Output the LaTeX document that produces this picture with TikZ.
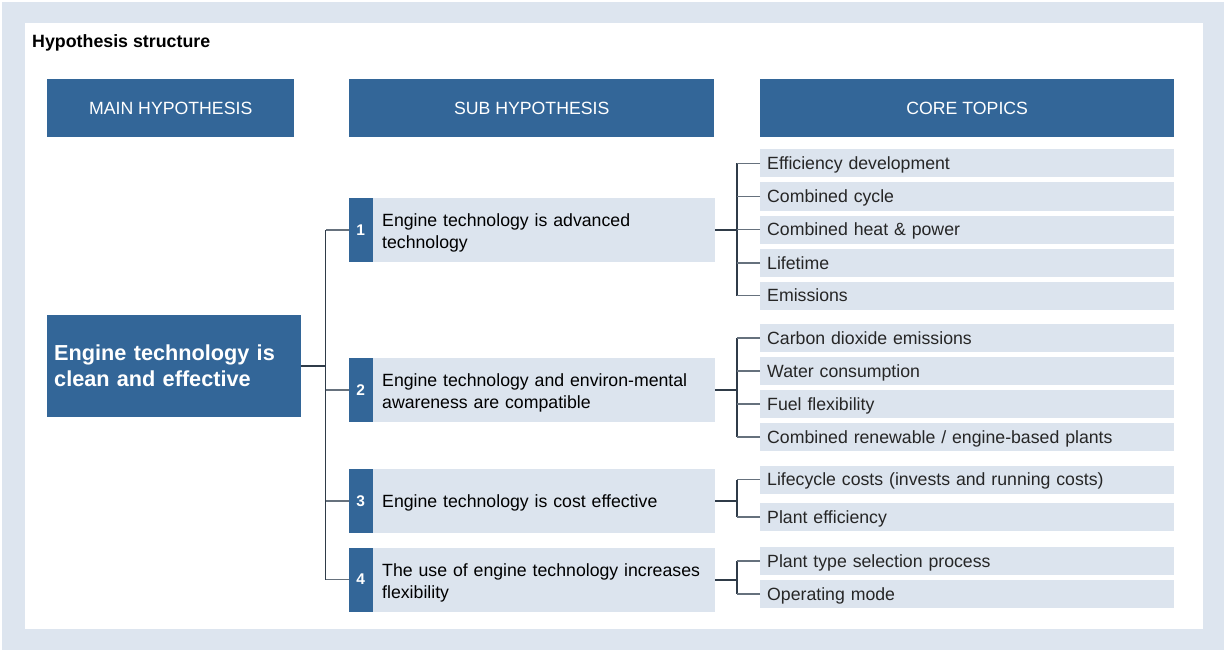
\documentclass[tikz,border=0pt]{standalone}
\usepackage{fontspec}
\setmainfont{Liberation Sans}
\definecolor{dblue}{HTML}{336698}
\definecolor{lblue}{HTML}{DCE4EE}
\definecolor{bgblue}{HTML}{DDE5EF}
\definecolor{lineD}{HTML}{2F3B48}
\definecolor{lineG}{HTML}{66717D}
\begin{document}
\begin{tikzpicture}[x=1pt,y=-1pt,
  txt/.style={font=\fontsize{17.7}{22}\selectfont},
  hdr/.style={txt, fill=dblue, text=white, minimum height=58pt, inner sep=0pt, anchor=north west},
  mainbox/.style={fill=dblue, text=white, minimum width=254pt, minimum height=102pt, inner xsep=7pt, inner ysep=0pt,
     text width=240pt, align=left, anchor=west, text depth=27.5pt, font=\fontsize{21.7}{26}\selectfont\bfseries},
  subbox/.style={txt, fill=lblue, text=black, minimum width=342pt, minimum height=64pt, inner xsep=9pt, inner ysep=0pt,
     text width=324pt, align=left, anchor=west, text depth=19.7pt},
  subone/.style={subbox, text depth=0pt},
  numbox/.style={fill=dblue, text=white, minimum width=24pt, minimum height=64pt, inner sep=0pt, anchor=east,
     font=\fontsize{15.5}{18}\selectfont\bfseries},
  topic/.style={txt, fill=lblue, text=black!85, minimum width=414pt, minimum height=28pt, inner xsep=7pt, inner ysep=0pt,
     text width=400pt, align=left, anchor=west, text depth=0pt},
  vline/.style={draw=lineD, line width=1.3pt},
  stubline/.style={draw=lineG, line width=1.2pt},
  thickstub/.style={draw=lineD, line width=2pt},
]
% background
\fill[white] (0,0) rectangle (1224,650);
\fill[bgblue] (2,2) rectangle (1224,650);
\fill[white] (25,23) rectangle (1203,629);
\useasboundingbox (0,0) rectangle (1224,650);

\node[anchor=base west, inner sep=0pt, font=\fontsize{17.8}{22}\selectfont\bfseries] (title) at (32,47.5) {Hypothesis structure};

% headers
\node[hdr, minimum width=247pt] (h1) at (47,79) {MAIN HYPOTHESIS};
\node[hdr, minimum width=365pt] (h2) at (349,79) {SUB HYPOTHESIS};
\node[hdr, minimum width=414pt] (h3) at (760,79) {CORE TOPICS};

% main hypothesis
\node[mainbox] (main) at (47,366) {Engine technology is\\clean and effective};

% sub hypotheses
\node[subbox] (s1) at (373,230) {Engine technology is advanced\\technology};
\node[subbox] (s2) at (373,390) {Engine technology and environ-mental\\awareness are compatible};
\node[subone] (s3) at (373,501) {Engine technology is cost effective};
\node[subbox] (s4) at (373,579.5) {The use of engine technology increases\\flexibility};
\node[numbox] (n1) at (s1.west) {1};
\node[numbox] (n2) at (s2.west) {2};
\node[numbox] (n3) at (s3.west) {3};
\node[numbox] (n4) at (s4.west) {4};

% core topics
\node[topic] (t11) at (760,163.5) {Efficiency development};
\node[topic] (t12) at (760,196.5) {Combined cycle};
\node[topic] (t13) at (760,229.5) {Combined heat \& power};
\node[topic] (t14) at (760,263) {Lifetime};
\node[topic] (t15) at (760,295.5) {Emissions};

\node[topic] (t21) at (760,338) {Carbon dioxide emissions};
\node[topic] (t22) at (760,371) {Water consumption};
\node[topic] (t23) at (760,404) {Fuel flexibility};
\node[topic] (t24) at (760,437) {Combined renewable / engine-based plants};

\node[topic] (t31) at (760,479.5) {Lifecycle costs (invests and running costs)};
\node[topic] (t32) at (760,517) {Plant efficiency};

\node[topic] (t41) at (760,561) {Plant type selection process};
\node[topic] (t42) at (760,594) {Operating mode};

% main bracket
\draw[vline] (n1.west) ++(-23,0) coordinate (b1) -- (b1 |- n4.west);
\draw[stubline] (n1.west) -- (b1);
\draw[stubline] (n2.west) -- ++(-23,0);
\draw[stubline] (n3.west) -- ++(-23,0);
\draw[stubline] (n4.west) -- ++(-23,0);
\draw[draw=lineD, line width=1.5pt] (main.east) -- (main.east -| b1);

% core brackets
\draw[vline] (t11.west) ++(-23,0) coordinate (c1) -- (c1 |- t15.west);
\foreach \t in {t11,t12,t13,t14,t15} \draw[stubline] (\t.west) -- ++(-23,0);
\draw[thickstub] (s1.east) -- (s1.east -| c1);

\draw[vline] (t21.west) ++(-23,0) coordinate (c2) -- (c2 |- t24.west);
\foreach \t in {t21,t22,t23,t24} \draw[stubline] (\t.west) -- ++(-23,0);
\draw[thickstub] (s2.east) -- (s2.east -| c2);

\draw[vline] (t31.west) ++(-23,0) coordinate (c3) -- (c3 |- t32.west);
\foreach \t in {t31,t32} \draw[stubline] (\t.west) -- ++(-23,0);
\draw[thickstub] (s3.east) -- (s3.east -| c3);

\draw[vline] (t41.west) ++(-23,0) coordinate (c4) -- (c4 |- t42.west);
\foreach \t in {t41,t42} \draw[stubline] (\t.west) -- ++(-23,0);
\draw[thickstub] (s4.east) -- (s4.east -| c4);
\end{tikzpicture}
\end{document}
